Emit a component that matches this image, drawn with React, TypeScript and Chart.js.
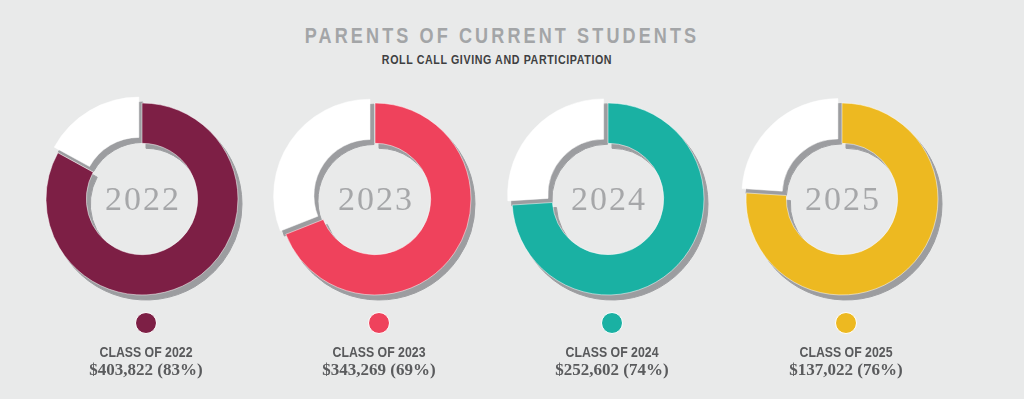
import React, { useEffect, useRef } from 'react';
import { Chart, registerables } from 'chart.js';

Chart.register(...registerables);

// ---- data ----
const years = ['2022', '2023', '2024', '2025'];
const participation = [83, 69, 74, 76];
const amounts = ['$403,822', '$343,269', '$252,602', '$137,022'];
const ringColors = ['#7d1f45', '#ef425c', '#1ab1a3', '#edb921'];
const titleText = 'PARENTS OF CURRENT STUDENTS';
const subtitleText = 'ROLL CALL GIVING AND PARTICIPATION';

// ---- styles / layout ----
const BG = '#e9eaea';
const SHADOW = '#9c9da0';
const CENTERS_X = [142, 375, 608, 842];
const CANVAS = 230;
const CY = 199;
const SANS = '"Liberation Sans", Arial, sans-serif';
const SERIF = '"Liberation Serif", "Times New Roman", serif';
const NARROW_SCALE = 0.82;

const shadowPlugin = {
  id: 'ringShadow',
  beforeDatasetsDraw(chart: any) {
    const ctx = chart.ctx;
    const meta = chart.getDatasetMeta(0);
    ctx.save();
    ctx.translate(4, 5);
    meta.data.forEach((arc: any) => {
      const orig = arc.options;
      arc.options = { ...orig, backgroundColor: SHADOW, borderColor: SHADOW };
      arc.draw(ctx);
      arc.options = orig;
    });
    ctx.restore();
  },
};

const yearPlugin = (label: string) => ({
  id: 'yearLabel',
  afterDatasetsDraw(chart: any) {
    const arc = chart.getDatasetMeta(0).data[0];
    const ctx = chart.ctx;
    ctx.save();
    ctx.font = `34px ${SERIF}`;
    ctx.fillStyle = '#a6a7a9';
    ctx.textAlign = 'center';
    ctx.textBaseline = 'alphabetic';
    try { (ctx as any).letterSpacing = '2px'; } catch (e) {}
    ctx.fillText(label, arc.x + 1, arc.y + 11);
    ctx.restore();
  },
});

function Donut({ index }: { index: number }) {
  const ref = useRef<HTMLCanvasElement>(null);
  useEffect(() => {
    const p = participation[index];
    const rest = 100 - p;
    const chart = new Chart(ref.current as HTMLCanvasElement, {
      type: 'doughnut',
      data: {
        labels: ['Not giving', 'Giving'],
        datasets: [
          {
            data: [rest, p],
            backgroundColor: ['#ffffff', ringColors[index]],
            borderColor: 'rgba(255,255,255,0.5)',
            borderWidth: 1,
            offset: [24, 0],
            hoverOffset: 0,
          } as any,
        ],
      },
      options: {
        responsive: false,
        animation: false,
        devicePixelRatio: 1,
        radius: 96,
        cutout: '58%',
        rotation: -rest * 3.6,
        events: [],
        layout: { padding: 0 },
        plugins: { legend: { display: false }, tooltip: { enabled: false } },
      } as any,
      plugins: [shadowPlugin, yearPlugin(years[index])],
    });
    return () => chart.destroy();
  }, [index]);
  return (
    <canvas
      ref={ref}
      width={CANVAS}
      height={CANVAS}
      style={{
        position: 'absolute',
        left: CENTERS_X[index] - CANVAS / 2,
        top: CY - CANVAS / 2,
        width: CANVAS,
        height: CANVAS,
      }}
    />
  );
}

const narrowText = (extra: React.CSSProperties): React.CSSProperties => ({
  position: 'absolute',
  textAlign: 'center',
  fontFamily: SANS,
  fontWeight: 'bold',
  whiteSpace: 'nowrap',
  transform: `scaleX(${NARROW_SCALE})`,
  transformOrigin: 'center',
  ...extra,
});

export default function App() {
  return (
    <div
      style={{
        position: 'absolute',
        left: 0,
        top: 0,
        width: 1024,
        height: 399,
        background: BG,
        overflow: 'hidden',
      }}
    >
      <div
        style={narrowText({
          left: 202,
          width: 600,
          top: 25,
          fontSize: 22,
          lineHeight: '22px',
          letterSpacing: '3.8px',
          color: '#a3a5a7',
        })}
      >
        {titleText}
      </div>
      <div
        style={narrowText({
          left: 197,
          width: 600,
          top: 53,
          fontSize: 13,
          lineHeight: '13px',
          letterSpacing: '0.75px',
          color: '#3e3f41',
        })}
      >
        {subtitleText}
      </div>
      {years.map((y, i) => (
        <Donut key={y} index={i} />
      ))}
      {years.map((y, i) => {
        const lx = CENTERS_X[i] + 4;
        return (
          <React.Fragment key={'lbl' + y}>
            <div
              style={{
                position: 'absolute',
                left: lx - 11,
                top: 323 - 11,
                width: 22,
                height: 22,
                boxSizing: 'border-box',
                borderRadius: '50%',
                border: '1.5px solid #ffffff',
                background: ringColors[i],
              }}
            />
            <div
              style={narrowText({
                left: lx - 100,
                width: 200,
                top: 344,
                fontSize: 15,
                lineHeight: '15px',
                color: '#58595b',
              })}
            >
              {`CLASS OF ${y}`}
            </div>
            <div
              style={{
                position: 'absolute',
                left: lx - 100,
                width: 200,
                top: 361,
                textAlign: 'center',
                fontFamily: SERIF,
                fontWeight: 'bold',
                fontSize: 17,
                lineHeight: '17px',
                color: '#5a5b5d',
                whiteSpace: 'nowrap',
              }}
            >
              {`${amounts[i]} (${participation[i]}%)`}
            </div>
          </React.Fragment>
        );
      })}
    </div>
  );
}
